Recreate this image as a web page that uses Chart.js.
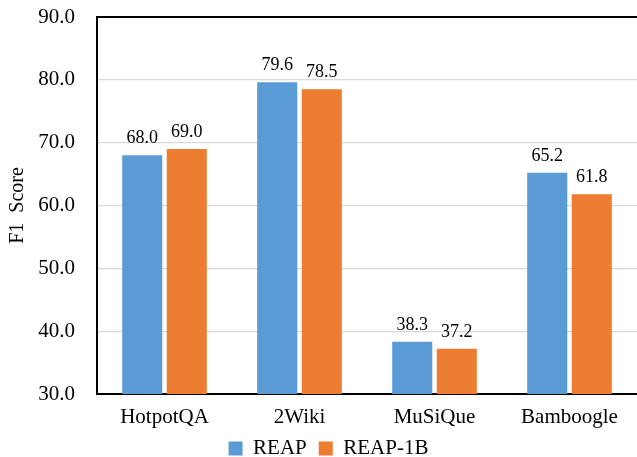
<!DOCTYPE html>
<html>
<head>
<meta charset="utf-8">
<script src="https://cdn.jsdelivr.net/npm/chart.js@4"></script>
<style>
  body { margin: 0; background: #fff; }
  #wrap { width: 637px; height: 457px; position: relative; }
</style>
</head>
<body>
<div id="wrap"><canvas id="myChart"></canvas></div>
<script>
// chart data
const categories = ['HotpotQA', '2Wiki', 'MuSiQue', 'Bamboogle'];
const reapScores = [68.0, 79.6, 38.3, 65.2];
const reap1bScores = [69.0, 78.5, 37.2, 61.8];
const yTicks = [30, 40, 50, 60, 70, 80, 90];

const serif = '"Liberation Serif", "Times New Roman", serif';

// value labels above each bar
const valueLabels = {
    id: 'valueLabels',
    afterDatasetsDraw(chart) {
        const ctx = chart.ctx;
        ctx.save();
        ctx.font = '18px ' + serif;
        ctx.fillStyle = '#000';
        ctx.textAlign = 'center';
        ctx.textBaseline = 'alphabetic';
        chart.data.datasets.forEach((ds, i) => {
            chart.getDatasetMeta(i).data.forEach((bar, j) => {
                ctx.fillText(ds.data[j].toFixed(1), bar.x, bar.y - 12);
            });
        });
        ctx.restore();
    }
};

// legend sits a little right of center; x labels may hang into legend box
const layoutTweak = {
    id: 'layoutTweak',
    afterLayout(chart) {
        const lg = chart.legend;
        if (lg) { lg.left += 10; lg.right += 10; }
        chart.scales.x.bottom += 10;
    }
};

const ctx = document.getElementById('myChart');
const myChart = new Chart(ctx, {
    type: 'bar',
    data: {
        labels: categories,
        datasets: [
            {
                label: 'REAP',
                data: reapScores,
                backgroundColor: '#5B9BD5',
                borderWidth: 0
            },
            {
                label: 'REAP-1B',
                data: reap1bScores,
                backgroundColor: '#ED7D31',
                borderWidth: 0
            }
        ]
    },
    options: {
        responsive: true,
        maintainAspectRatio: false,
        animation: false,
        categoryPercentage: 0.66,
        barPercentage: 0.9,
        layout: { padding: { top: 17, right: 0, bottom: 0, left: 0 } },
        plugins: {
            legend: {
                position: 'bottom',
                maxHeight: 31,
                labels: {
                    font: { family: serif, size: 21 },
                    color: '#000',
                    boxWidth: 14,
                    boxHeight: 14,
                    padding: 12
                }
            },
            tooltip: { enabled: false }
        },
        scales: {
            x: {
                grid: { display: false, drawTicks: false },
                border: { color: '#000', width: 2 },
                ticks: {
                    font: { family: serif, size: 21 },
                    color: '#000',
                    padding: 11
                },
                afterFit(scale) { scale.height = 32; }
            },
            y: {
                min: 30,
                max: 90,
                afterBuildTicks(scale) {
                    scale.ticks = yTicks.map(v => ({ value: v }));
                },
                grid: {
                    drawTicks: true,
                    tickLength: 22,
                    tickColor: 'rgba(0,0,0,0)',
                    color: c => c.tick && c.tick.value === 90 ? '#000' : '#d9d9d9',
                    lineWidth: c => c.tick && c.tick.value === 90 ? 2 : 1.3
                },
                border: { color: '#000', width: 2 },
                ticks: {
                    font: { family: serif, size: 21 },
                    color: '#000',
                    padding: 0,
                    callback: v => v.toFixed(1)
                },
                title: {
                    display: true,
                    text: 'F1  Score',
                    font: { family: serif, size: 20 },
                    color: '#000',
                    padding: { top: 6, bottom: 0 }
                },
                afterFit(scale) { scale.width = 97; }
            }
        }
    },
    plugins: [valueLabels, layoutTweak]
});
</script>
</body>
</html>
